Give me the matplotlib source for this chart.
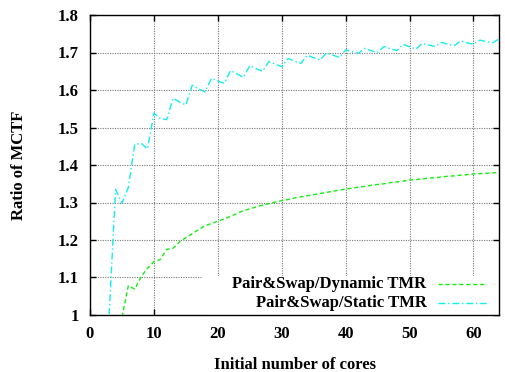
import matplotlib
matplotlib.use("Agg")
import matplotlib.pyplot as plt
from matplotlib.patches import Rectangle

plt.rcParams['font.family'] = ['Liberation Serif', 'DejaVu Serif']

# Pair&Swap / Static TMR, cores 3..64
static_x = list(range(3, 65))
static_y = [1.000, 1.335, 1.298, 1.340, 1.455, 1.458, 1.443, 1.538, 1.524, 1.521,
            1.578, 1.568, 1.560, 1.613, 1.603, 1.595, 1.631, 1.624, 1.618, 1.652,
            1.643, 1.634, 1.665, 1.657, 1.650, 1.676, 1.669, 1.662, 1.684, 1.677,
            1.671, 1.693, 1.686, 1.680, 1.699, 1.693, 1.687, 1.707, 1.702, 1.698,
            1.711, 1.705, 1.700, 1.716, 1.710, 1.705, 1.722, 1.715, 1.709, 1.724,
            1.720, 1.716, 1.727, 1.722, 1.718, 1.731, 1.726, 1.722, 1.733, 1.729,
            1.726, 1.736]

# Pair&Swap / Dynamic TMR, cores 5..64
dynamic_x = list(range(5, 65))
dynamic_y = [0.995, 1.078, 1.069, 1.102, 1.125, 1.142, 1.148, 1.175, 1.178, 1.195,
             1.206, 1.217, 1.228, 1.238, 1.244, 1.250, 1.256, 1.263, 1.271, 1.278,
             1.283, 1.288, 1.293, 1.297, 1.301, 1.305, 1.308, 1.312, 1.315, 1.318,
             1.321, 1.324, 1.327, 1.330, 1.333, 1.336, 1.338, 1.341, 1.343, 1.346,
             1.348, 1.350, 1.353, 1.355, 1.357, 1.360, 1.361, 1.363, 1.365, 1.366,
             1.368, 1.370, 1.371, 1.373, 1.374, 1.376, 1.377, 1.378, 1.379, 1.380]

labels = ["Pair&Swap/Dynamic TMR", "Pair&Swap/Static TMR"]
colors = ["#11ee11", "#11eeee"]
styles = [(0, (3, 2)), (0, (5, 2, 1, 2))]

fig = plt.figure(figsize=(5.05, 3.72), dpi=100)
ax = fig.add_axes([90 / 505, 57 / 372, 409 / 505, 300 / 372])

ax.plot(dynamic_x, dynamic_y, color=colors[0], linestyle=styles[0], lw=1.0, zorder=3)
ax.plot(static_x, static_y, color=colors[1], linestyle=styles[1], lw=1.0, zorder=3)

ax.set_xlim(0, 64)
ax.set_ylim(1.0, 1.8)
ax.set_xticks([0, 10, 20, 30, 40, 50, 60])
ax.set_yticks([1.0, 1.1, 1.2, 1.3, 1.4, 1.5, 1.6, 1.7, 1.8])
ax.set_yticklabels(["1", "1.1", "1.2", "1.3", "1.4", "1.5", "1.6", "1.7", "1.8"])
ax.grid(True, color="#777777", linestyle=(0, (1, 1.2)), linewidth=0.8)
ax.tick_params(direction="in", top=True, right=True, length=4, width=1,
               labelsize=12, pad=8)
for lbl in ax.get_xticklabels() + ax.get_yticklabels():
    lbl.set_fontweight("bold")
for s in ax.spines.values():
    s.set_linewidth(1.0)

ax.set_xlabel("Initial number of cores", fontsize=12, fontweight="bold", labelpad=11)
ax.set_ylabel("Ratio of MCTF", fontsize=12, fontweight="bold", labelpad=22)

# gnuplot-style key: opaque box, right-aligned text, sample to the right
ax.add_patch(Rectangle((0.273, 0.0), 0.73, 0.13, transform=ax.transAxes,
                       facecolor="white", edgecolor="none", zorder=2))
key_y = [0.103, 0.041]
for lab, c, ls, ky in zip(labels, colors, styles, key_y):
    ax.text(0.823, ky, lab, transform=ax.transAxes, ha="right", va="center",
            fontsize=12, fontweight="bold", zorder=4)
    ax.plot([0.85, 0.968], [ky, ky], transform=ax.transAxes, color=c,
            linestyle=ls, lw=1.0, zorder=4)

fig.savefig("out.png", dpi=100)
